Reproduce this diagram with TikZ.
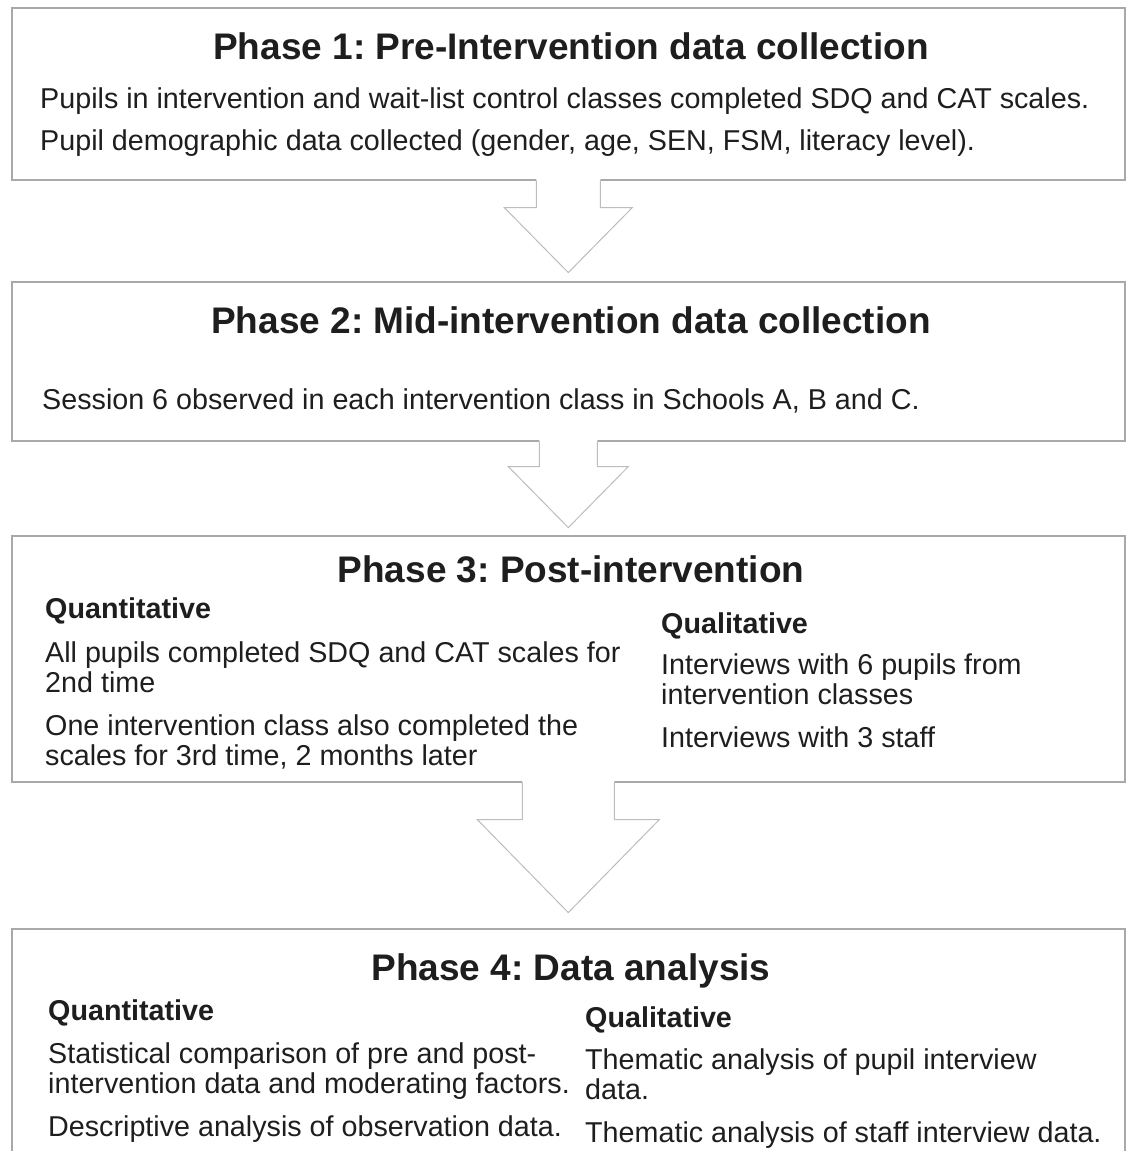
\documentclass[tikz,border=0pt]{standalone}
\usepackage{fontspec}
\setmainfont{Liberation Sans}
\usetikzlibrary{calc}
\frenchspacing

\definecolor{boxgray}{HTML}{A9A9A9}
\definecolor{arrowgray}{HTML}{BDBDBD}
\definecolor{inkblack}{HTML}{1E1E1E}

\tikzset{
  phasebox/.style={draw=boxgray, line width=1.6pt, fill=white, rectangle, anchor=north west, inner sep=0pt, minimum width=1113pt},
  phasetitle/.style={font=\fontsize{37}{44}\selectfont\bfseries, text=inkblack, anchor=base, inner sep=0pt},
  subhead/.style={font=\fontsize{28.7}{30}\selectfont\bfseries, text=inkblack, anchor=base west, inner sep=0pt},
  bodytext/.style={font=\fontsize{28.7}{30}\selectfont, text=inkblack, anchor=base west, inner sep=0pt, align=left},
}

% hollow block arrow hanging under a box: node, shaft half width, shaft length, head half width, head length
\newcommand{\hollowarrow}[5]{%
  \fill[white] ($(#1.south)+(-#2,-2)$) -- ($(#1.south)+(-#2,#3)$) -- ($(#1.south)+(-#4,#3)$)
    -- ($(#1.south)+(0,#3+#5)$) -- ($(#1.south)+(#4,#3)$) -- ($(#1.south)+(#2,#3)$)
    -- ($(#1.south)+(#2,-2)$) -- cycle;
  \draw[arrowgray, line width=1pt, line join=miter] ($(#1.south)+(-#2,0)$) -- ($(#1.south)+(-#2,#3)$) -- ($(#1.south)+(-#4,#3)$)
    -- ($(#1.south)+(0,#3+#5)$) -- ($(#1.south)+(#4,#3)$) -- ($(#1.south)+(#2,#3)$)
    -- ($(#1.south)+(#2,0)$);
}

\begin{document}
\begin{tikzpicture}[x=1pt, y=-1pt]
  \useasboundingbox (0,0) rectangle (1127,1151);
  \clip (0,0) rectangle (1127,1151);

  % boxes
  \node[phasebox, minimum height=172pt] (p1) at (11,7)   {};
  \node[phasebox, minimum height=159pt] (p2) at (11,281) {};
  \node[phasebox, minimum height=246pt] (p3) at (11,535) {};
  \node[phasebox, minimum height=260pt] (p4) at (11,928) {};

  % arrows between phases
  \hollowarrow{p1}{32}{27}{64}{65}
  \hollowarrow{p2}{29}{25}{60}{61}
  \hollowarrow{p3}{46}{37}{91}{93}

  % phase 1
  \node[phasetitle] (t1) at (571,59) {Phase 1: Pre-Intervention data collection};
  \node[bodytext] (b1a) at (40,108) {Pupils in intervention and wait-list control classes completed SDQ and CAT scales.};
  \node[bodytext] (b1b) at (40,150) {Pupil demographic data collected (gender, age, SEN, FSM, literacy level).};

  % phase 2
  \node[phasetitle] (t2) at (571,333) {Phase 2: Mid-intervention data collection};
  \node[bodytext] (b2a) at (42,409) {Session 6 observed in each intervention class in Schools A, B and C.};

  % phase 3 (two-line texts sit on their last baseline)
  \node[phasetitle] (t3) at (571,582) {Phase 3: Post-intervention};
  \node[subhead]  (q3)  at (45,618)  {Quantitative};
  \node[bodytext] (b3a) at (45,692)  {All pupils completed SDQ and CAT scales for\\2nd time};
  \node[bodytext] (b3b) at (45,765)  {One intervention class also completed the\\scales for 3rd time, 2 months later};
  \node[subhead]  (l3)  at (661,633) {Qualitative};
  \node[bodytext] (b3c) at (661,704) {Interviews with 6 pupils from\\intervention classes};
  \node[bodytext] (b3d) at (661,747) {Interviews with 3 staff};

  % phase 4
  \node[phasetitle] (t4) at (571,980) {Phase 4: Data analysis};
  \node[subhead]  (q4)  at (48,1020)  {Quantitative};
  \node[bodytext] (b4a) at (48,1093)  {Statistical comparison of pre and post-\\intervention data and moderating factors.};
  \node[bodytext] (b4b) at (48,1136)  {Descriptive analysis of observation data.};
  \node[subhead]  (l4)  at (585,1027) {Qualitative};
  \node[bodytext] (b4c) at (585,1099) {Thematic analysis of pupil interview\\data.};
  \node[bodytext] (b4d) at (585,1142) {Thematic analysis of staff interview data.};
\end{tikzpicture}
\end{document}
